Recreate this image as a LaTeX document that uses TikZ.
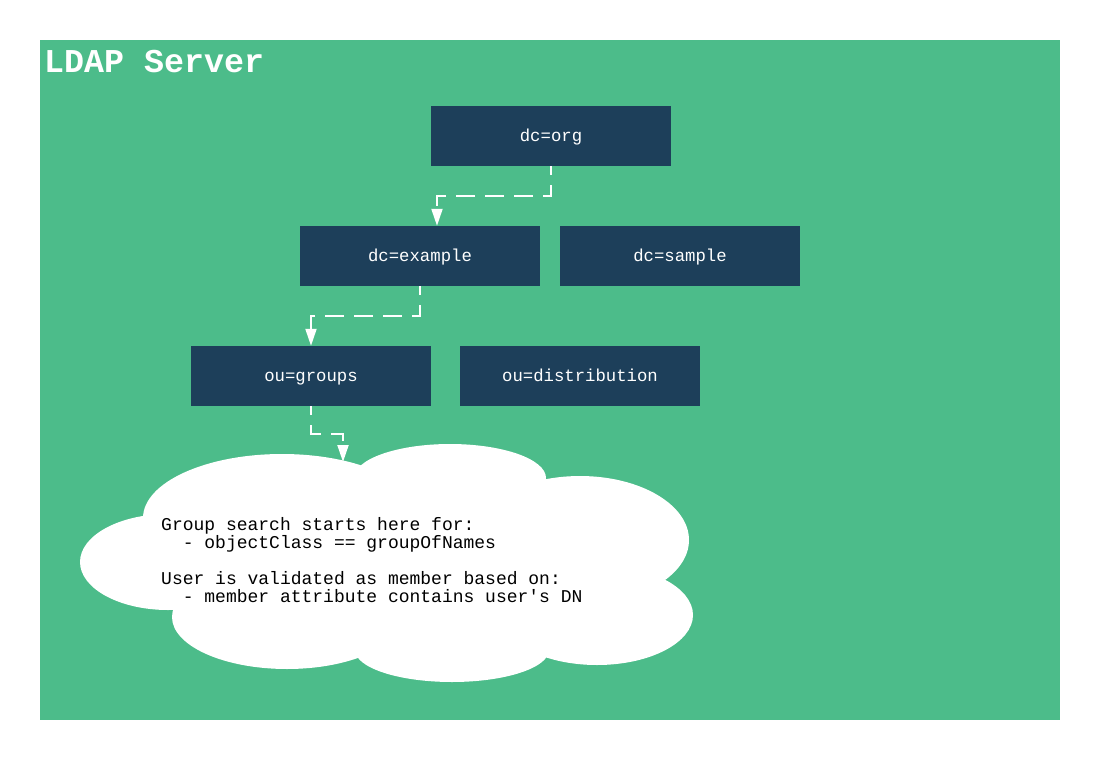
\documentclass[tikz,border=0pt]{standalone}
\usepackage{fontspec}
\setmonofont{Liberation Mono}
\usetikzlibrary{arrows.meta}
\definecolor{ldapgreen}{HTML}{4CBC8A}
\definecolor{ldapdark}{HTML}{1D3F5A}
\begin{document}
\begin{tikzpicture}[x=1pt,y=-1pt,
  entry/.style={fill=ldapdark, minimum width=240pt, minimum height=60pt, inner sep=0pt,
    text=white, text height=1.15em, text depth=0.12em,
    font=\ttfamily\fontsize{17.3}{18}\selectfont},
  conn/.style={draw=white, line width=2pt, dash pattern=on 19pt off 10pt, dash phase=10pt,
    -{Triangle[length=17pt,width=11pt,fill=white]}},
  lobe/.style={fill=white},
]
\useasboundingbox (0,0) rectangle (1100,760);
\fill[white] (0,0) rectangle (1100,760);
\fill[ldapgreen] (40,40) rectangle (1060,720);
\node[anchor=base west, inner sep=0pt, text=white,
  font=\ttfamily\bfseries\fontsize{33.3}{36}\selectfont] (title) at (44,72) {LDAP Server};

\node[entry] (org) at (551,136) {dc=org};
\node[entry] (ex) at (420,256) {dc=example};
\node[entry] (sample) at (680,256) {dc=sample};
\node[entry] (groups) at (311,376) {ou=groups};
\node[entry] (dist) at (580,376) {ou=distribution};

% cloud
\fill[lobe] (168,562) ellipse [x radius=88pt, y radius=48pt];
\fill[lobe] (282,518) ellipse [x radius=139pt, y radius=64pt];
\fill[lobe] (450,478) ellipse [x radius=96pt, y radius=34pt];
\fill[lobe] (580,540) ellipse [x radius=109pt, y radius=64pt];
\fill[lobe] (597,615) ellipse [x radius=96pt, y radius=50pt];
\fill[lobe] (452,650) ellipse [x radius=97pt, y radius=32pt];
\fill[lobe] (287,617) ellipse [x radius=115pt, y radius=52pt];
\fill[lobe] (200,500) rectangle (640,640);

\node[anchor=north west, inner sep=0pt, align=left,
  font=\ttfamily\fontsize{18}{18}\selectfont] (note) at (161,517)
  {Group search starts here for:\\
   \phantom{xx}- objectClass == groupOfNames\\[18pt]
   User is validated as member based on:\\
   \phantom{xx}- member attribute contains user's DN};

\coordinate (cloudtop) at (343,462);
\draw[conn] (org.south) -- ++(0,30) -| ([xshift=17pt]ex.north);
\draw[conn] (ex.south) -- ++(0,30) -| (groups.north);
\draw[conn] (groups.south) -- ++(0,28) -| (cloudtop);
\end{tikzpicture}
\end{document}
